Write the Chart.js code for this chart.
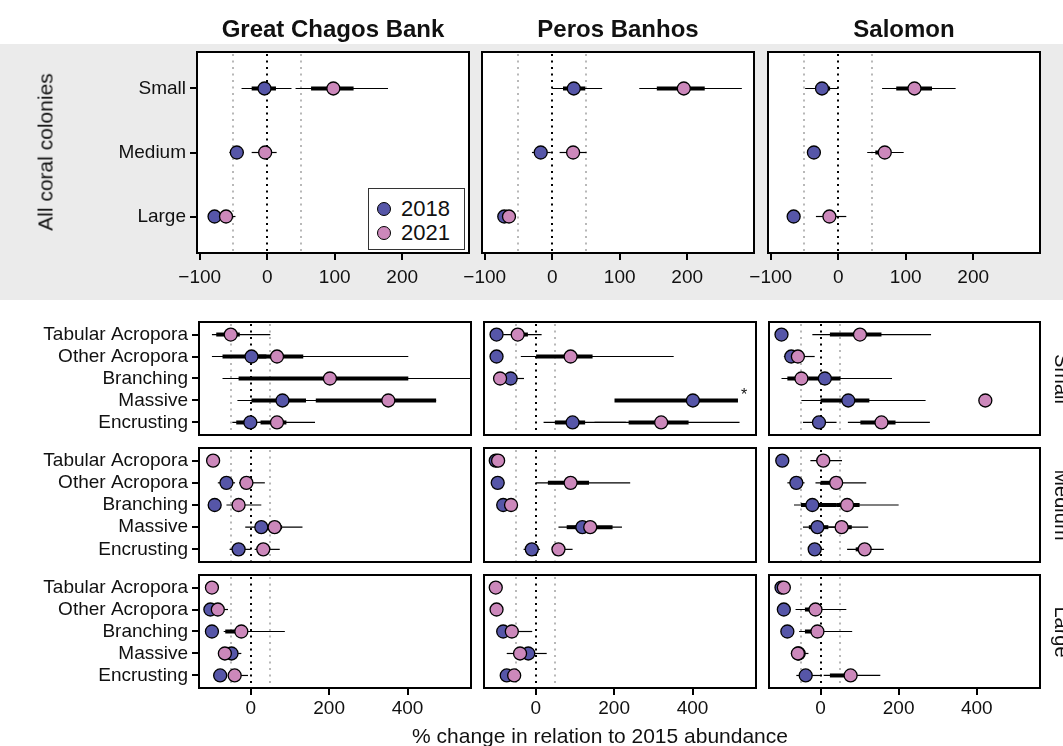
<!DOCTYPE html>
<html>
<head>
<meta charset="utf-8">
<script src="https://cdn.jsdelivr.net/npm/chart.js@4.4.1/dist/chart.umd.min.js"></script>
<style>
  html, body { margin: 0; padding: 0; }
  body { width: 1063px; height: 746px; position: relative; overflow: hidden; background: #fff;
         font-family: 'Liberation Sans', Arial, Helvetica, sans-serif; color: #111; }
  .band { position: absolute; left: 0; top: 44px; width: 1063px; height: 256px; background: #EBEBEB; }
  canvas { position: absolute; }
  .txt { position: absolute; white-space: nowrap; line-height: 1; z-index: 3; transform: translate(-50%, -50%); }
  .colTitle { font-weight: bold; font-size: 24px; }
  .legend { position: absolute; z-index: 4; background: #fff; border: 1px solid #333; box-sizing: border-box; }
  .legRow { position: absolute; left: 0; height: 24px; display: flex; align-items: center; font-size: 22px; }
  .dot { width: 12px; height: 12px; border-radius: 50%; border: 1.3px solid #000; margin-left: 8px; margin-right: 10px; }
</style>
</head>
<body>
<div class="band"></div>

<script>
// ---- categories and labels ----
const SITES = ['Great Chagos Bank', 'Peros Banhos', 'Salomon'];
const SIZE_CLASSES = ['Small', 'Medium', 'Large'];
const GROUPS = ['Tabular Acropora', 'Other Acropora', 'Branching', 'Massive', 'Encrusting'];
const YEARS = ['2018', '2021'];
const TOP_TICKS = [-100, 0, 100, 200];
const BOTTOM_TICKS = [0, 200, 400];
const REF_LINES = [-50, 0, 50];

// ---- estimates: each row is [estimate, thinLo, thinHi, thickLo, thickHi] ----
// All coral colonies, rows: Small, Medium, Large
const gcbAll2018 = [[-4, -38, 36, -23, 13], [-45, -56, -35], [-78]];
const gcbAll2021 = [[98, 42, 179, 65, 128], [-3, -23, 14], [-61, -66, -47]];
const pbAll2018  = [[32, 0, 74, 16, 49], [-17, -30, -2], [-71]];
const pbAll2021  = [[195, 129, 281, 155, 226], [31, 11, 51], [-64]];
const salAll2018 = [[-24, -49, 0, -33, -12], [-36, -45, -26], [-66]];
const salAll2021 = [[113, 65, 174, 86, 139], [69, 43, 97, 55, 63], [-13, -33, 12, -21, -4]];

// Small colonies, rows follow GROUPS
const gcbSmall2018 = [[null], [2, -99, 80, -72, 40], [null], [81, -34, 200, 2, 141], [-1, -47, 40, -37, 15]];
const gcbSmall2021 = [[-51, -99, 50, -88, -28], [67, -10, 402, 20, 134], [202, -72, 600, -31, 402], [351, 130, 473, 166, 473], [67, 20, 164, 25, 91]];
const pbSmall2018  = [[-100], [-100], [-64, -64, -30], [401, null, null, 201, 516], [94, 20, 230, 49, 126]];
const pbSmall2021  = [[-46, -83, 15, -36, -20], [89, -38, 352, 1, 145], [-91], [null], [320, 150, 520, 237, 390]];
const salSmall2018 = [[-100], [-75, -94, -40], [11, -60, 183, -30, 51], [71, -49, 269, 0, 125], [-4, -45, 41]];
const salSmall2021 = [[101, -21, 283, 24, 156], [-58, -70, -15], [-49, -100, 40, -85, -30], [422], [156, 70, 280, 102, 192]];

// Medium colonies
const gcbMed2018 = [[null], [-62, -84, -40], [-92], [27, -14, 80], [-31, -54, 0]];
const gcbMed2021 = [[-96], [-11, -30, 36, -15, 5], [-31, -62, 27], [61, 20, 132, 40, 80], [32, 10, 74]];
const pbMed2018  = [[-102], [-97], [-83], [119, 58, 180, 79, 150], [-10, -31, 11]];
const pbMed2021  = [[-96], [89, 1, 241, 31, 136], [-63, -70, -52], [139, 90, 220, 100, 196], [58, 41, 94]];
const salMed2018 = [[-98], [-62, -85, -41], [-21, -68, 60, -50, 40], [-8, -45, 40, -30, 20], [-15, -30, 9]];
const salMed2021 = [[7, -26, 55, -10, 15], [40, -13, 117, 0, 30], [68, 20, 200, 40, 100], [54, 20, 122, 40, 80], [113, 68, 162, 90, 125]];

// Large colonies
const gcbLarge2018 = [[null], [-103], [-99], [-49, -60, -24], [-78]];
const gcbLarge2021 = [[-99], [-84, -95, -58], [-24, -69, 87, -65, -10], [-66], [-41, -50, -7]];
const pbLarge2018  = [[null], [null], [-83], [-19, -40, 28], [-74]];
const pbLarge2021  = [[-102], [-100], [-61, -70, -9], [-40, -74, -10], [-55]];
const salLarge2018 = [[-100], [-94], [-85], [-56], [-38, -62, 0]];
const salLarge2021 = [[-94], [-13, -64, 66, -40, -5], [-8, -55, 81, -40, 0], [-58, -76, -31, -65, -50], [77, 8, 153, 24, 80]];

// significance flags: size row, site column, group index, mark
const SIG_MARKS = [{ row: 0, col: 1, group: 3, text: '*' }];

const TOP_SERIES = [[gcbAll2018, gcbAll2021], [pbAll2018, pbAll2021], [salAll2018, salAll2021]];
const BOTTOM_SERIES = [
  [[gcbSmall2018, gcbSmall2021], [pbSmall2018, pbSmall2021], [salSmall2018, salSmall2021]],
  [[gcbMed2018, gcbMed2021], [pbMed2018, pbMed2021], [salMed2018, salMed2021]],
  [[gcbLarge2018, gcbLarge2021], [pbLarge2018, pbLarge2021], [salLarge2018, salLarge2021]]
];

// ---- layout ----
const TOP_AREAS = [[197, 52, 469, 253], [482, 52, 754, 253], [768, 52, 1040, 253]];
const COL_X = [[199, 471], [484, 756], [769, 1040]];
const ROW_Y = [[322, 435], [448, 562], [575, 688]];
const TOP_RANGE = [-104, 299];
const BOTTOM_RANGE = [-132, 562];

const FONT = "'Liberation Sans', Arial, Helvetica, sans-serif";
const INK = '#111';
const BLUE = '#5656A8';
const PINK = '#CC88BB';
const YEAR_COLORS = [BLUE, PINK];

Chart.defaults.font.family = FONT;
Chart.defaults.color = INK;

const fmt = v => (v < 0 ? '\u2212' + Math.abs(v) : String(v));
const val = (r, k) => (r && r[k] !== undefined ? r[k] : null);

function makePanel(area, opts) {
  const [L, T, R, B] = area;
  const cats = opts.cats;
  const yW = opts.yLabels ? L : 30;
  const padT = 20, padR = 30;
  const xH = opts.xTicks ? 45 : 20;
  const w = yW + (R - L) + padR;
  const h = padT + (B - T) + xH;
  const cv = document.createElement('canvas');
  cv.width = w; cv.height = h;
  cv.style.left = (L - yW) + 'px';
  cv.style.top = (T - padT) + 'px';
  cv.style.width = w + 'px';
  cv.style.height = h + 'px';
  document.body.appendChild(cv);

  const series = opts.series;

  const marks = {
    id: 'panelMarks',
    beforeDraw(chart) {
      const { ctx, chartArea: a } = chart;
      ctx.save();
      ctx.fillStyle = '#fff';
      ctx.fillRect(a.left, a.top, a.right - a.left, a.bottom - a.top);
      ctx.restore();
    },
    beforeDatasetsDraw(chart) {
      const { ctx, chartArea: a, scales: { x, y } } = chart;
      ctx.save();
      ctx.beginPath();
      ctx.rect(a.left, a.top, a.right - a.left, a.bottom - a.top);
      ctx.clip();
      // reference lines at -50, 0, +50 %
      REF_LINES.forEach(v => {
        const px = Math.round(x.getPixelForValue(v));
        ctx.beginPath();
        ctx.setLineDash([2, 4.5]);
        ctx.lineWidth = 2;
        ctx.strokeStyle = v === 0 ? '#000' : '#B8B8B8';
        ctx.moveTo(px, a.top + 2);
        ctx.lineTo(px, a.bottom);
        ctx.stroke();
      });
      ctx.setLineDash([]);
      ctx.strokeStyle = '#000';
      // intervals: thin then thick
      series.forEach(rows => {
        rows.forEach((r, i) => {
          const py = y.getPixelForValue(i + 1);
          const lo = val(r, 1), hi = val(r, 2);
          if (lo !== null && hi !== null) {
            ctx.beginPath();
            ctx.lineWidth = 1.2;
            ctx.moveTo(x.getPixelForValue(lo), py);
            ctx.lineTo(x.getPixelForValue(hi), py);
            ctx.stroke();
          }
        });
      });
      series.forEach(rows => {
        rows.forEach((r, i) => {
          const py = y.getPixelForValue(i + 1);
          const lo = val(r, 3), hi = val(r, 4);
          if (lo !== null && hi !== null) {
            ctx.beginPath();
            ctx.lineWidth = 4;
            ctx.moveTo(x.getPixelForValue(lo), py);
            ctx.lineTo(x.getPixelForValue(hi), py);
            ctx.stroke();
          }
        });
      });
      ctx.restore();
    },
    afterDraw(chart) {
      const { ctx, chartArea: a, scales: { x, y } } = chart;
      ctx.save();
      ctx.lineWidth = 2;
      ctx.strokeStyle = '#000';
      ctx.strokeRect(a.left, a.top, a.right - a.left, a.bottom - a.top);
      (opts.sig || []).forEach(m => {
        const r = series[0][m.group];
        const hi = val(r, 4) !== null ? val(r, 4) : val(r, 0);
        ctx.fillStyle = INK;
        ctx.font = '16px ' + FONT;
        ctx.textAlign = 'left';
        ctx.textBaseline = 'alphabetic';
        ctx.fillText(m.text, x.getPixelForValue(hi) + 3, y.getPixelForValue(m.group + 1));
      });
      ctx.restore();
    }
  };

  const datasets = series.map((rows, k) => ({
    label: YEARS[k],
    data: rows.map((r, i) => ({ x: val(r, 0), y: i + 1 })).filter(p => p.x !== null),
    pointRadius: 6.5,
    pointBackgroundColor: YEAR_COLORS[k],
    pointBorderColor: '#000',
    pointBorderWidth: 1.3,
    showLine: false,
    order: 2 - k
  }));

  return new Chart(cv, {
    type: 'scatter',
    data: { datasets },
    options: {
      responsive: false,
      animation: false,
      devicePixelRatio: 1,
      events: [],
      layout: { padding: { top: padT, right: padR, left: 0, bottom: 0 } },
      plugins: { legend: { display: false }, tooltip: { enabled: false }, title: { display: false } },
      scales: {
        x: {
          type: 'linear',
          min: opts.range[0], max: opts.range[1],
          afterBuildTicks: s => { s.ticks = opts.ticks.map(v => ({ value: v })); },
          afterFit: s => { s.height = xH; },
          border: { display: false },
          grid: { display: opts.xTicks, drawOnChartArea: false, drawTicks: true, tickLength: 7, lineWidth: 2, color: '#000' },
          ticks: { display: opts.xTicks, padding: opts.xPad, maxRotation: 0, autoSkip: false,
                   font: { size: 19 }, color: INK, callback: v => fmt(v) }
        },
        y: {
          type: 'linear',
          reverse: true,
          min: 0.43, max: cats.length + 0.57,
          afterBuildTicks: s => { s.ticks = cats.map((c, i) => ({ value: i + 1 })); },
          afterFit: s => { s.width = yW; },
          border: { display: false },
          grid: { display: opts.yLabels, drawOnChartArea: false, drawTicks: true, tickLength: 7, lineWidth: 2, color: '#000' },
          ticks: { display: opts.yLabels, padding: 4, autoSkip: false, font: { size: 19 }, color: INK,
                   callback: v => cats[Math.round(v) - 1] }
        }
      }
    },
    plugins: [marks]
  });
}

// top row: all colonies per site
TOP_AREAS.forEach((area, c) => {
  makePanel(area, { cats: SIZE_CLASSES, series: TOP_SERIES[c], range: TOP_RANGE, ticks: TOP_TICKS,
                    yLabels: c === 0, xTicks: true, xPad: 6 });
});

// lower grid: size class rows x site columns
ROW_Y.forEach(([T, B], r) => {
  COL_X.forEach(([L, R], c) => {
    makePanel([L, T, R, B], {
      cats: GROUPS, series: BOTTOM_SERIES[r][c], range: BOTTOM_RANGE, ticks: BOTTOM_TICKS,
      yLabels: c === 0, xTicks: r === ROW_Y.length - 1, xPad: 2,
      sig: SIG_MARKS.filter(m => m.row === r && m.col === c)
    });
  });
});

// ---- text ----
function addText(text, x, y, cls, extra) {
  const d = document.createElement('div');
  d.className = 'txt ' + (cls || '');
  d.textContent = text;
  d.style.left = x + 'px';
  d.style.top = y + 'px';
  if (extra) Object.assign(d.style, extra);
  document.body.appendChild(d);
  return d;
}

SITES.forEach((s, c) => {
  const [L, , R] = TOP_AREAS[c];
  addText(s, (L + R) / 2, 29, 'colTitle');
});
addText('All coral colonies', 45, 152, '', { fontSize: '21px', transform: 'translate(-50%, -50%) rotate(-90deg)' });
SIZE_CLASSES.forEach((s, r) => {
  const [T, B] = ROW_Y[r];
  addText(s, 1062, (T + B) / 2, '', { fontSize: '20px', transform: 'translate(-50%, -50%) rotate(90deg)' });
});
addText('% change in relation to 2015 abundance', 600, 735, '', { fontSize: '21px' });

// legend inside the first top panel
const leg = document.createElement('div');
leg.className = 'legend';
Object.assign(leg.style, { left: '368px', top: '188px', width: '97px', height: '62px' });
YEARS.forEach((yr, k) => {
  const row = document.createElement('div');
  row.className = 'legRow';
  row.style.top = (8 + k * 24) + 'px';
  const dot = document.createElement('span');
  dot.className = 'dot';
  dot.style.background = YEAR_COLORS[k];
  const lab = document.createElement('span');
  lab.textContent = yr;
  row.appendChild(dot);
  row.appendChild(lab);
  leg.appendChild(row);
});
document.body.appendChild(leg);
</script>
</body>
</html>
